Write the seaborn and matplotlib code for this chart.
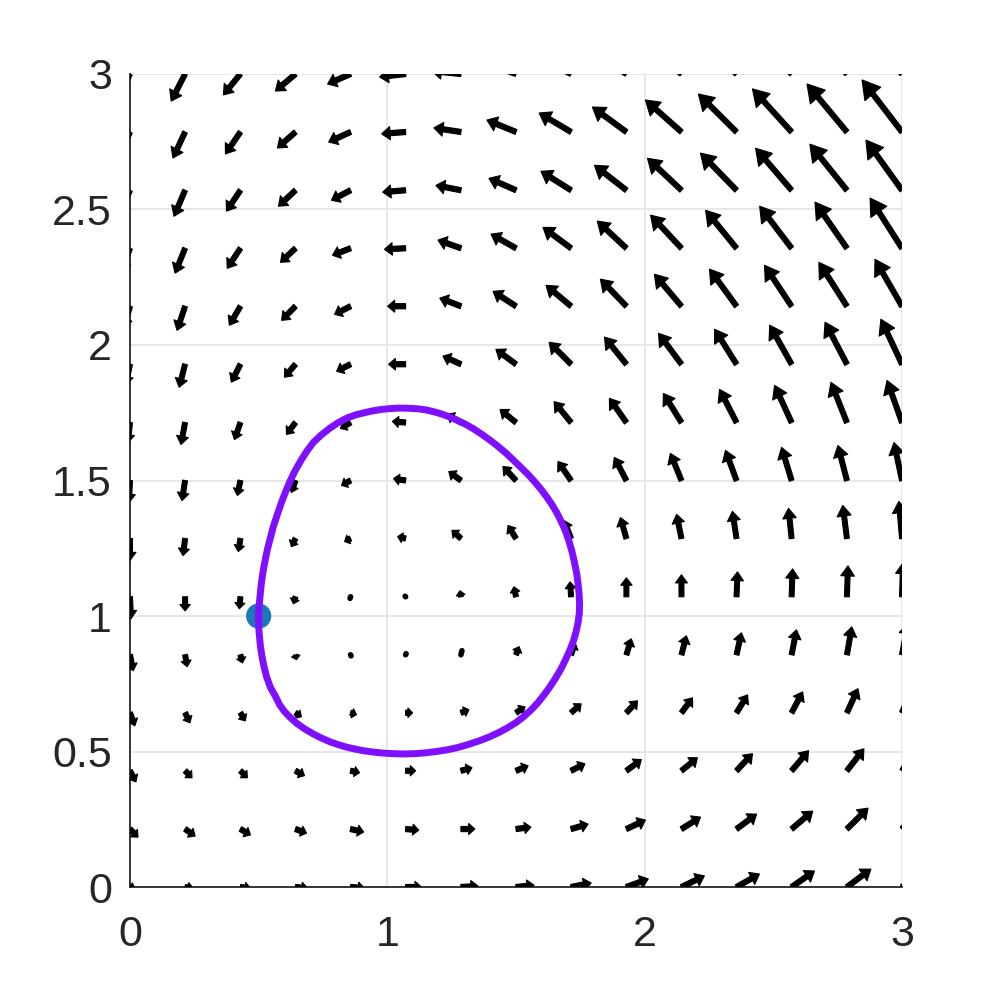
import numpy as np
import pandas as pd
import matplotlib
matplotlib.use("Agg")
import matplotlib.pyplot as plt
import seaborn as sns

# ---------------- data ----------------
x_grid = [0.0, 0.214, 0.429, 0.643, 0.857, 1.071, 1.286, 1.5, 1.714, 1.929, 2.143, 2.357, 2.571, 2.786, 3.0]
y_grid = [0.0, 0.214, 0.429, 0.643, 0.857, 1.071, 1.286, 1.5, 1.714, 1.929, 2.143, 2.357, 2.571, 2.786, 3.0]

# arrow components (data units), one row per y_grid value (bottom -> top), one entry per x_grid value
U_rows = [
    [0.019, 0.031, 0.039, 0.047, 0.054, 0.062, 0.066, 0.070, 0.078, 0.085, 0.089, 0.089, 0.089, 0.093, 0.093],
    [0.031, 0.039, 0.039, 0.043, 0.051, 0.051, 0.054, 0.058, 0.066, 0.074, 0.074, 0.078, 0.082, 0.082, 0.082],
    [0.023, 0.027, 0.027, 0.035, 0.035, 0.039, 0.043, 0.047, 0.054, 0.058, 0.062, 0.062, 0.066, 0.066, 0.066],
    [0.019, 0.019, 0.019, 0.023, 0.023, 0.027, 0.031, 0.035, 0.039, 0.043, 0.043, 0.043, 0.043, 0.043, 0.043],
    [0.012, 0.008, 0.008, 0.004, 0.002, 0.002, 0.004, 0.012, 0.016, 0.019, 0.019, 0.019, 0.019, 0.019, 0.023],
    [0.004, 0.000, -0.004, -0.008, -0.002, -0.002, -0.004, -0.008, -0.004, 0.000, 0.000, 0.004, 0.004, 0.004, 0.004],
    [0.000, -0.008, -0.008, -0.016, -0.023, -0.031, -0.035, -0.031, -0.027, -0.023, -0.019, -0.016, -0.012, -0.016, -0.012],
    [-0.004, -0.012, -0.012, -0.016, -0.035, -0.047, -0.047, -0.051, -0.051, -0.047, -0.043, -0.043, -0.039, -0.035, -0.031],
    [-0.008, -0.016, -0.023, -0.035, -0.039, -0.051, -0.054, -0.062, -0.066, -0.066, -0.070, -0.066, -0.066, -0.062, -0.058],
    [-0.016, -0.023, -0.035, -0.043, -0.054, -0.066, -0.070, -0.078, -0.085, -0.085, -0.089, -0.085, -0.085, -0.085, -0.082],
    [-0.023, -0.031, -0.043, -0.054, -0.062, -0.070, -0.082, -0.089, -0.097, -0.101, -0.105, -0.105, -0.105, -0.109, -0.105],
    [-0.031, -0.039, -0.051, -0.058, -0.070, -0.082, -0.089, -0.097, -0.109, -0.113, -0.120, -0.120, -0.124, -0.124, -0.124],
    [-0.039, -0.043, -0.054, -0.066, -0.074, -0.089, -0.097, -0.105, -0.117, -0.124, -0.132, -0.140, -0.140, -0.144, -0.140],
    [-0.043, -0.047, -0.058, -0.070, -0.085, -0.093, -0.105, -0.113, -0.124, -0.132, -0.140, -0.148, -0.152, -0.155, -0.155],
    [-0.051, -0.054, -0.066, -0.078, -0.089, -0.101, -0.113, -0.120, -0.132, -0.140, -0.148, -0.155, -0.159, -0.163, -0.163],
]
V_rows = [
    [-0.004, -0.004, -0.004, -0.004, -0.004, 0.000, 0.004, 0.007, 0.015, 0.030, 0.041, 0.048, 0.059, 0.066, 0.074],
    [-0.030, -0.026, -0.022, -0.015, -0.011, -0.004, 0.000, 0.007, 0.018, 0.033, 0.044, 0.055, 0.066, 0.077, 0.085],
    [-0.041, -0.026, -0.026, -0.018, -0.007, 0.000, 0.011, 0.018, 0.026, 0.041, 0.048, 0.063, 0.074, 0.081, 0.092],
    [-0.048, -0.037, -0.030, -0.015, -0.007, 0.000, 0.011, 0.022, 0.033, 0.044, 0.055, 0.066, 0.077, 0.089, 0.100],
    [-0.059, -0.044, -0.030, -0.018, -0.004, 0.004, 0.015, 0.030, 0.044, 0.059, 0.070, 0.081, 0.092, 0.103, 0.114],
    [-0.081, -0.052, -0.044, -0.026, -0.006, 0.002, 0.022, 0.037, 0.055, 0.070, 0.081, 0.092, 0.103, 0.114, 0.125],
    [-0.081, -0.063, -0.048, -0.030, -0.011, 0.007, 0.030, 0.048, 0.066, 0.077, 0.089, 0.100, 0.111, 0.122, 0.137],
    [-0.081, -0.074, -0.055, -0.044, -0.018, 0.007, 0.033, 0.052, 0.070, 0.085, 0.100, 0.111, 0.122, 0.129, 0.140],
    [-0.074, -0.081, -0.063, -0.044, -0.022, 0.004, 0.030, 0.048, 0.077, 0.089, 0.107, 0.122, 0.137, 0.148, 0.155],
    [-0.074, -0.085, -0.066, -0.048, -0.026, 0.000, 0.030, 0.055, 0.081, 0.100, 0.114, 0.129, 0.144, 0.155, 0.166],
    [-0.077, -0.089, -0.070, -0.052, -0.030, 0.000, 0.030, 0.055, 0.077, 0.100, 0.118, 0.137, 0.151, 0.162, 0.173],
    [-0.081, -0.092, -0.074, -0.052, -0.026, -0.004, 0.030, 0.052, 0.077, 0.100, 0.122, 0.140, 0.155, 0.170, 0.185],
    [-0.085, -0.096, -0.077, -0.059, -0.037, -0.007, 0.018, 0.044, 0.070, 0.092, 0.118, 0.137, 0.155, 0.170, 0.185],
    [-0.089, -0.096, -0.081, -0.059, -0.037, -0.007, 0.015, 0.044, 0.070, 0.092, 0.118, 0.140, 0.159, 0.177, 0.192],
    [-0.100, -0.100, -0.077, -0.063, -0.037, -0.011, 0.011, 0.041, 0.066, 0.092, 0.118, 0.140, 0.162, 0.181, 0.199],
]

orbit_x = [0.499, 0.500, 0.503, 0.507, 0.513, 0.521, 0.531, 0.545, 0.566, 0.581, 0.600, 0.623, 0.648,
           0.678, 0.710, 0.743, 0.777, 0.810, 0.842, 0.875, 0.907, 0.946, 0.985, 1.023, 1.062, 1.105,
           1.148, 1.190, 1.231, 1.275, 1.318, 1.359, 1.399, 1.435, 1.468, 1.500, 1.529, 1.558, 1.585,
           1.609, 1.632, 1.654, 1.675, 1.693, 1.710, 1.723, 1.733, 1.741, 1.746, 1.747, 1.745, 1.741,
           1.736, 1.727, 1.717, 1.705, 1.691, 1.675, 1.658, 1.639, 1.619, 1.595, 1.570, 1.544, 1.516,
           1.488, 1.460, 1.430, 1.399, 1.368, 1.336, 1.303, 1.270, 1.241, 1.212, 1.183, 1.153, 1.124,
           1.095, 1.066, 1.037, 1.006, 0.975, 0.943, 0.910, 0.876, 0.842, 0.808, 0.775, 0.742, 0.712,
           0.687, 0.665, 0.642, 0.622, 0.604, 0.587, 0.572, 0.557, 0.546, 0.535, 0.526, 0.518, 0.511,
           0.506, 0.502, 0.499]
orbit_y = [1.000, 0.962, 0.925, 0.887, 0.850, 0.812, 0.775, 0.738, 0.702, 0.673, 0.648, 0.625, 0.604,
           0.584, 0.566, 0.550, 0.536, 0.525, 0.516, 0.509, 0.503, 0.498, 0.494, 0.492, 0.491, 0.492,
           0.495, 0.500, 0.506, 0.515, 0.527, 0.540, 0.555, 0.571, 0.588, 0.607, 0.628, 0.653, 0.680,
           0.709, 0.739, 0.771, 0.805, 0.840, 0.875, 0.907, 0.940, 0.975, 1.010, 1.048, 1.085, 1.121,
           1.157, 1.199, 1.240, 1.279, 1.317, 1.350, 1.382, 1.412, 1.440, 1.470, 1.498, 1.525, 1.551,
           1.577, 1.602, 1.626, 1.649, 1.670, 1.690, 1.708, 1.723, 1.735, 1.745, 1.753, 1.760, 1.764,
           1.766, 1.767, 1.767, 1.765, 1.762, 1.757, 1.750, 1.742, 1.730, 1.713, 1.692, 1.667, 1.640,
           1.608, 1.575, 1.537, 1.498, 1.457, 1.415, 1.373, 1.330, 1.290, 1.250, 1.210, 1.170, 1.125,
           1.080, 1.040, 1.000]

start_x = [0.5]
start_y = [1.0]

x_ticks = [0, 1, 2, 3]
x_tick_labels = ["0", "1", "2", "3"]
y_ticks = [0, 0.5, 1, 1.5, 2, 2.5, 3]
y_tick_labels = ["0", "0.5", "1", "1.5", "2", "2.5", "3"]

# ---------------- styling ----------------
sns.set_style("white")
plt.rcParams["font.family"] = ["Liberation Sans", "DejaVu Sans"]
text_color = "#262626"

fig = plt.figure(figsize=(9.97, 9.97), dpi=100)
ax = fig.add_axes([0.1304, 0.1103, 0.7743, 0.8155])
ax.set_xlim(0, 3)
ax.set_ylim(0, 3)

# long-form table of the vector field
rows = []
for j, yv in enumerate(y_grid):
    for i, xv in enumerate(x_grid):
        rows.append((xv, yv, U_rows[j][i], V_rows[j][i]))
field = pd.DataFrame(rows, columns=["x", "y", "u", "v"])

for r in field.itertuples():
    L = float(np.hypot(r.u, r.v))
    if L < 1e-9:
        continue
    if L < 0.016:
        # very short vectors render as small blobs
        ax.plot([r.x, r.x + r.u], [r.y, r.y + r.v], color="black", lw=4.0,
                solid_capstyle="round", zorder=3)
        continue
    hl = min(0.22 * L + 0.012, 0.75 * L)
    hw = 0.2 * L + 0.03
    ax.arrow(r.x, r.y, r.u, r.v, width=0.019, head_width=hw, head_length=hl,
             length_includes_head=True, fc="black", ec="black", lw=0.8,
             joinstyle="round", capstyle="round", zorder=3)

sns.scatterplot(x=start_x, y=start_y, s=330, color="#1f77b4", edgecolor="none",
                ax=ax, zorder=4, legend=False)
sns.lineplot(x=orbit_x, y=orbit_y, sort=False, estimator=None, color="#7f0fff",
             linewidth=5.0, ax=ax, zorder=5, legend=False)

# axes appearance (MATLAB-like, box off)
ax.set_xticks(x_ticks)
ax.set_xticklabels(x_tick_labels)
ax.set_yticks(y_ticks)
ax.set_yticklabels(y_tick_labels)
ax.grid(True, color="#e3e3e3", linewidth=1.2, zorder=0)
ax.set_axisbelow(True)
for side in ["top", "right"]:
    ax.spines[side].set_visible(False)
for side in ["left", "bottom"]:
    ax.spines[side].set_visible(True)
    ax.spines[side].set_color(text_color)
    ax.spines[side].set_linewidth(1.3)
ax.tick_params(axis="both", direction="in", length=6, width=1.0, color=text_color,
               labelcolor=text_color, labelsize=31)
ax.tick_params(axis="x", pad=20)
ax.tick_params(axis="y", pad=13)
ax.set_xlabel("")
ax.set_ylabel("")

fig.savefig("out.png", dpi=100, facecolor="white")
